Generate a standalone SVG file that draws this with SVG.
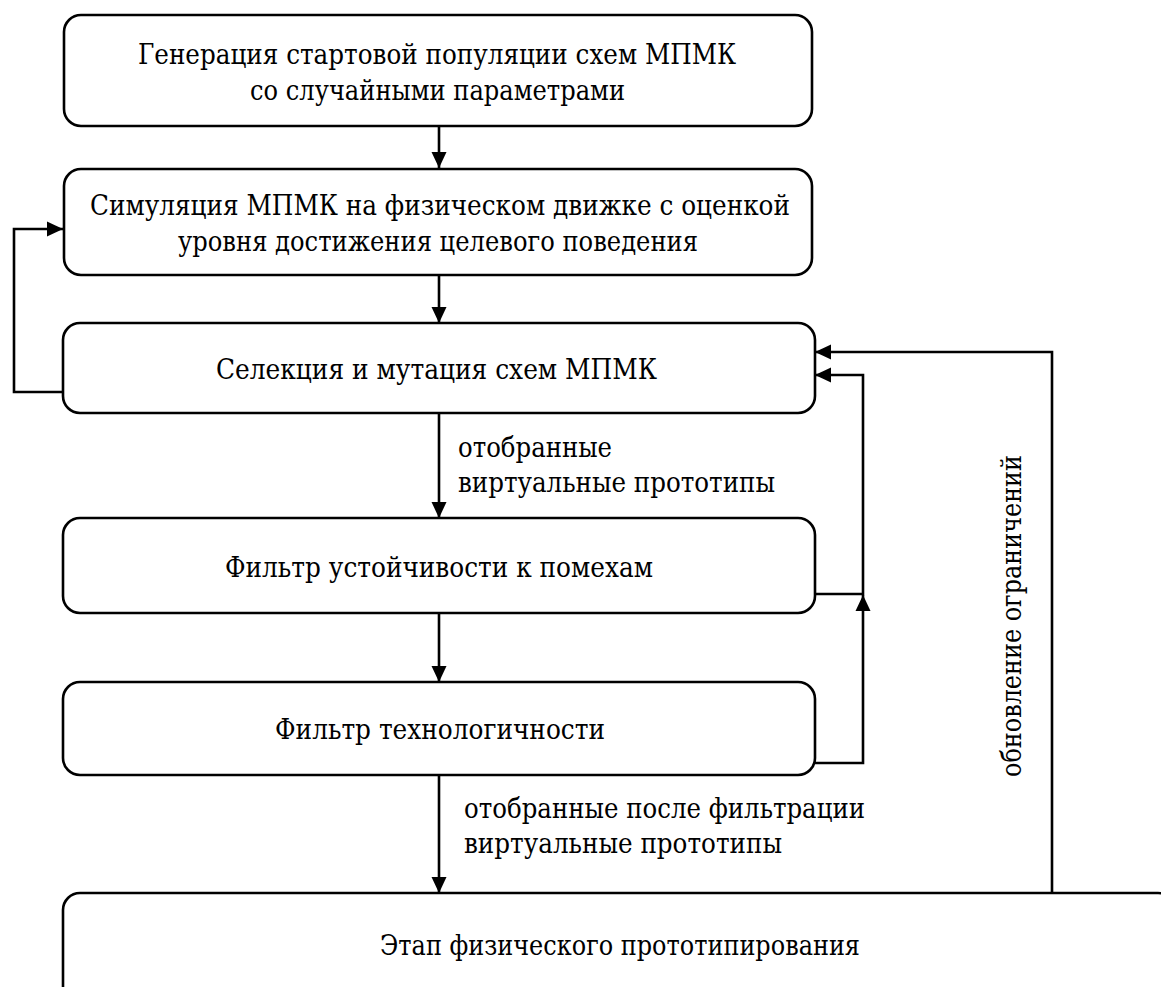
<svg xmlns="http://www.w3.org/2000/svg" width="1161" height="987" viewBox="0 0 1161 987">
<style>
.box{fill:#fff;stroke:#000;stroke-width:2.6}
.ln{fill:none;stroke:#000;stroke-width:2.6}
text{font-family:"DejaVu Serif","Noto Serif","Tinos","FreeSerif","Nimbus Roman","Liberation Serif",serif;font-size:28.5px;fill:#000}
</style>
<defs>
<marker id="ah" markerUnits="userSpaceOnUse" markerWidth="16" markerHeight="16" viewBox="0 0 16 16" refX="16" refY="8" orient="auto">
<path d="M0,0.5 L16,8 L0,15.5 Z" fill="#000"/>
</marker>
</defs>
<rect width="1161" height="987" fill="#fff"/>
<g id="connectors">
<path class="ln" d="M439,126 V168" marker-end="url(#ah)"/>
<path class="ln" d="M439,276 V323" marker-end="url(#ah)"/>
<path class="ln" d="M439,413 V518" marker-end="url(#ah)"/>
<path class="ln" d="M439,613 V682" marker-end="url(#ah)"/>
<path class="ln" d="M439,775 V893" marker-end="url(#ah)"/>
<path class="ln" d="M63,392 H14 V229 H63" marker-end="url(#ah)"/>
<path class="ln" d="M815,594 H863 V375 H815" marker-end="url(#ah)"/>
<path class="ln" d="M815,763 H863 V595" marker-end="url(#ah)"/>
<path class="ln" d="M1052,893 V352 H815" marker-end="url(#ah)"/>
<text x="458" y="457" textLength="154" lengthAdjust="spacingAndGlyphs">отобранные</text>
<text x="458" y="492" textLength="317" lengthAdjust="spacingAndGlyphs">виртуальные прототипы</text>
<text x="464" y="818" textLength="401" lengthAdjust="spacingAndGlyphs">отобранные после фильтрации</text>
<text x="464" y="853" textLength="318" lengthAdjust="spacingAndGlyphs">виртуальные прототипы</text>
<text transform="translate(1021,777) rotate(-90)" textLength="322" lengthAdjust="spacingAndGlyphs">обновление ограничений</text>
</g>
<g id="n1">
<rect class="box" x="64" y="15" width="748" height="111" rx="17"/>
<text x="138" y="64" textLength="598" lengthAdjust="spacingAndGlyphs">Генерация стартовой популяции схем МПМК</text>
<text x="250" y="100" textLength="375" lengthAdjust="spacingAndGlyphs">со случайными параметрами</text>
</g>
<g id="n2">
<rect class="box" x="64" y="169" width="748" height="106" rx="17"/>
<text x="90" y="215" textLength="700" lengthAdjust="spacingAndGlyphs">Симуляция МПМК на физическом движке с оценкой</text>
<text x="178" y="251" textLength="520" lengthAdjust="spacingAndGlyphs">уровня достижения целевого поведения</text>
</g>
<g id="n3">
<rect class="box" x="63" y="323" width="752" height="90" rx="17"/>
<text x="216" y="379" textLength="441" lengthAdjust="spacingAndGlyphs">Селекция и мутация схем МПМК</text>
</g>
<g id="n4">
<rect class="box" x="63" y="518" width="752" height="95" rx="17"/>
<text x="225" y="577" textLength="428" lengthAdjust="spacingAndGlyphs">Фильтр устойчивости к помехам</text>
</g>
<g id="n5">
<rect class="box" x="63" y="682" width="752" height="93" rx="17"/>
<text x="275" y="739" textLength="330" lengthAdjust="spacingAndGlyphs">Фильтр технологичности</text>
</g>
<g id="n6">
<rect class="box" x="63" y="893" width="1112" height="130" rx="17"/>
<text x="380" y="955" textLength="480" lengthAdjust="spacingAndGlyphs">Этап физического прототипирования</text>
</g>
</svg>
